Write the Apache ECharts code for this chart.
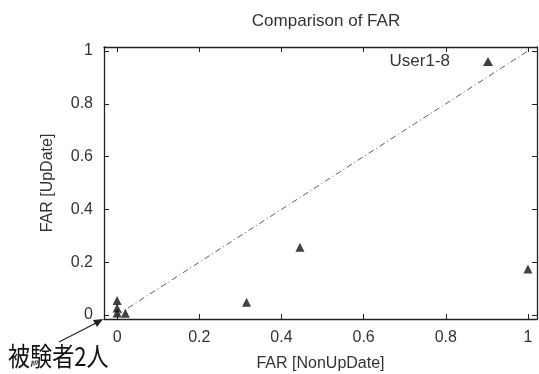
<!DOCTYPE html>
<html>
<head>
<meta charset="utf-8">
<script src="https://cdn.jsdelivr.net/npm/echarts@6/dist/echarts.min.js"></script>
<style>
  html, body { margin: 0; padding: 0; background: #fff; }
  #chart { width: 539px; height: 374px; }
</style>
</head>
<body>
<div id="chart"></div>
<script>
// FAR values per user (x: non-update, y: update)
const farNonUpDate = [0, 0, 0, 0.02, 0.315, 0.445, 1.0];
const farUpDate = [0.055, 0.027, 0.008, 0.007, 0.048, 0.257, 0.174];
const diagonal = [[0, 0], [1, 1]];
const tickValues = [0, 0.2, 0.4, 0.6, 0.8, 1];

const points = farNonUpDate.map((x, i) => [x, farUpDate[i]]);
const font = 'Liberation Sans, Arial, sans-serif';
const ink = '#222';
const textInk = '#333';

const axisCommon = {
  type: 'value',
  splitLine: { show: false },
  axisLine: { show: true, onZero: false, lineStyle: { color: ink, width: 1.3 } },
  axisTick: { show: true, inside: true, length: 5, customValues: tickValues, lineStyle: { color: ink, width: 1 } },
};

const labelStyle = {
  fontFamily: font,
  fontSize: 16,
  color: textInk,
  customValues: tickValues,
  formatter: (v) => String(v),
};

const chart = echarts.init(document.getElementById('chart'));
chart.setOption({
  animation: false,
  title: {
    text: 'Comparison of FAR',
    left: 321,
    top: 8,
    textAlign: 'center',
    textStyle: { fontFamily: font, fontSize: 17, fontWeight: 'normal', color: textInk },
  },
  legend: {
    data: ['User1-8'],
    right: 41,
    top: 48,
    align: 'right',
    itemWidth: 10,
    itemHeight: 9,
    textStyle: { fontFamily: font, fontSize: 17, color: textInk, padding: [0, 28, 0, 0] },
  },
  grid: { left: 104, right: 2, top: 47, bottom: 55, outerBoundsMode: 'none' },
  xAxis: [
    Object.assign({}, axisCommon, {
      min: -0.032,
      max: 1.022,
      position: 'bottom',
      name: 'FAR [NonUpDate]',
      nameLocation: 'middle',
      nameMoveOverlap: false,
      nameGap: 37,
      nameTextStyle: { fontFamily: font, fontSize: 16, color: textInk },
      axisLabel: Object.assign({}, labelStyle, { margin: 11 }),
    }),
    Object.assign({}, axisCommon, {
      min: -0.032,
      max: 1.022,
      position: 'top',
      axisLabel: { show: false },
    }),
  ],
  yAxis: [
    Object.assign({}, axisCommon, {
      min: -0.015,
      max: 1.015,
      position: 'left',
      name: 'FAR [UpDate]',
      nameLocation: 'middle',
      nameMoveOverlap: false,
      nameGap: 48,
      nameTextStyle: { fontFamily: font, fontSize: 16, color: textInk },
      axisLabel: Object.assign({}, labelStyle, { margin: 11 }),
    }),
    Object.assign({}, axisCommon, {
      min: -0.015,
      max: 1.015,
      position: 'right',
      axisLabel: { show: false },
    }),
  ],
  series: [
    {
      name: 'diagonal',
      type: 'line',
      data: diagonal,
      symbol: 'none',
      silent: true,
      lineStyle: { color: '#333', width: 0.8, type: [6, 3, 1, 3] },
    },
    {
      name: 'User1-8',
      type: 'scatter',
      data: points,
      symbol: 'triangle',
      symbolSize: 9,
      itemStyle: { color: '#111' },
    },
  ],
  graphic: [
    {
      type: 'line',
      shape: { x1: 59, y1: 342, x2: 102, y2: 320 },
      style: { stroke: ink, lineWidth: 1.2 },
    },
    {
      type: 'polygon',
      shape: { points: [[103, 319], [93, 320], [97, 327]] },
      style: { fill: ink },
    },
    {
      type: 'text',
      left: 8,
      top: 343,
      scaleX: 0.85,
      style: {
        text: '被験者2人',
        font: '26px "Noto Sans CJK JP"',
        fill: '#111',
      },
    },
  ],
});
</script>
</body>
</html>
